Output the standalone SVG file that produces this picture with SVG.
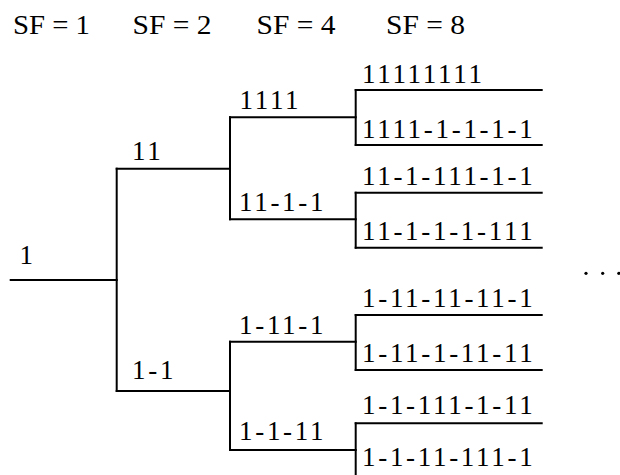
<svg xmlns="http://www.w3.org/2000/svg" width="620" height="475" viewBox="0 0 620 475">
<style>
.l{stroke:#000;stroke-width:2;fill:none;stroke-linecap:square}
.t{font-family:"Liberation Serif","Times New Roman",serif;font-size:27px;letter-spacing:2.7px;fill:#000}
.h{font-family:"Liberation Serif","Times New Roman",serif;font-size:27px;fill:#000}
</style>
<rect width="620" height="475" fill="#fff"/>
<g id="headers">
<text class="h" x="13" y="33.5" textLength="77" lengthAdjust="spacingAndGlyphs">SF = 1</text>
<text class="h" x="132.5" y="33.5" textLength="79" lengthAdjust="spacingAndGlyphs">SF = 2</text>
<text class="h" x="256.5" y="33.5" textLength="79" lengthAdjust="spacingAndGlyphs">SF = 4</text>
<text class="h" x="386" y="33.5" textLength="79" lengthAdjust="spacingAndGlyphs">SF = 8</text>
</g>
<g id="connectors">
<path class="l" d="M116.7,168.7V391"/>
<path class="l" d="M230,117.3V219.3"/>
<path class="l" d="M230,341.7V450"/>
<path class="l" d="M355.7,90V145"/>
<path class="l" d="M355.7,192.7V247.7"/>
<path class="l" d="M355.7,315V370"/>
<path class="l" d="M355.7,423.3V480"/>
</g>
<g id="n-1"><path class="l" d="M10.7,280H116.7"/><text class="t" x="19.5" y="264.3">1</text></g>
<g id="n-11"><path class="l" d="M116.7,168.7H230"/><text class="t" x="132" y="159.5">11</text></g>
<g id="n-1-1"><path class="l" d="M116.7,391H230"/><text class="t" x="132" y="379.3">1-1</text></g>
<g id="n-1111"><path class="l" d="M230,117.3H355.7"/><text class="t" x="239.5" y="109.3">1111</text></g>
<g id="n-11-1-1"><path class="l" d="M230,219.3H355.7"/><text class="t" x="239" y="211">11-1-1</text></g>
<g id="n-1-11-1"><path class="l" d="M230,341.7H355.7"/><text class="t" x="239" y="334">1-11-1</text></g>
<g id="n-1-1-11"><path class="l" d="M230,450H355.7"/><text class="t" x="239" y="440">1-1-11</text></g>
<g id="n8-1"><path class="l" d="M355.7,90H541.7"/><text class="t" x="362" y="83.3">11111111</text></g>
<g id="n8-2"><path class="l" d="M355.7,145H541.7"/><text class="t" x="362" y="137.7">1111-1-1-1-1</text></g>
<g id="n8-3"><path class="l" d="M355.7,192.7H541.7"/><text class="t" x="362" y="184.5">11-1-111-1-1</text></g>
<g id="n8-4"><path class="l" d="M355.7,247.7H541.7"/><text class="t" x="362" y="240">11-1-1-1-111</text></g>
<g id="n8-5"><path class="l" d="M355.7,315H541.7"/><text class="t" x="362" y="307">1-11-11-11-1</text></g>
<g id="n8-6"><path class="l" d="M355.7,370H541.7"/><text class="t" x="362" y="362">1-11-1-11-11</text></g>
<g id="n8-7"><path class="l" d="M355.7,423.3H541.7"/><text class="t" x="362" y="414">1-1-111-1-11</text></g>
<g id="n8-8"><path class="l" d="M355.7,478H541.7"/><text class="t" x="362" y="466">1-1-11-111-1</text></g>
<g id="ellipsis" fill="#000">
<circle cx="586" cy="273.3" r="1.6"/>
<circle cx="602.7" cy="273.3" r="1.6"/>
<circle cx="618.8" cy="273.3" r="1.6"/>
</g>
</svg>
